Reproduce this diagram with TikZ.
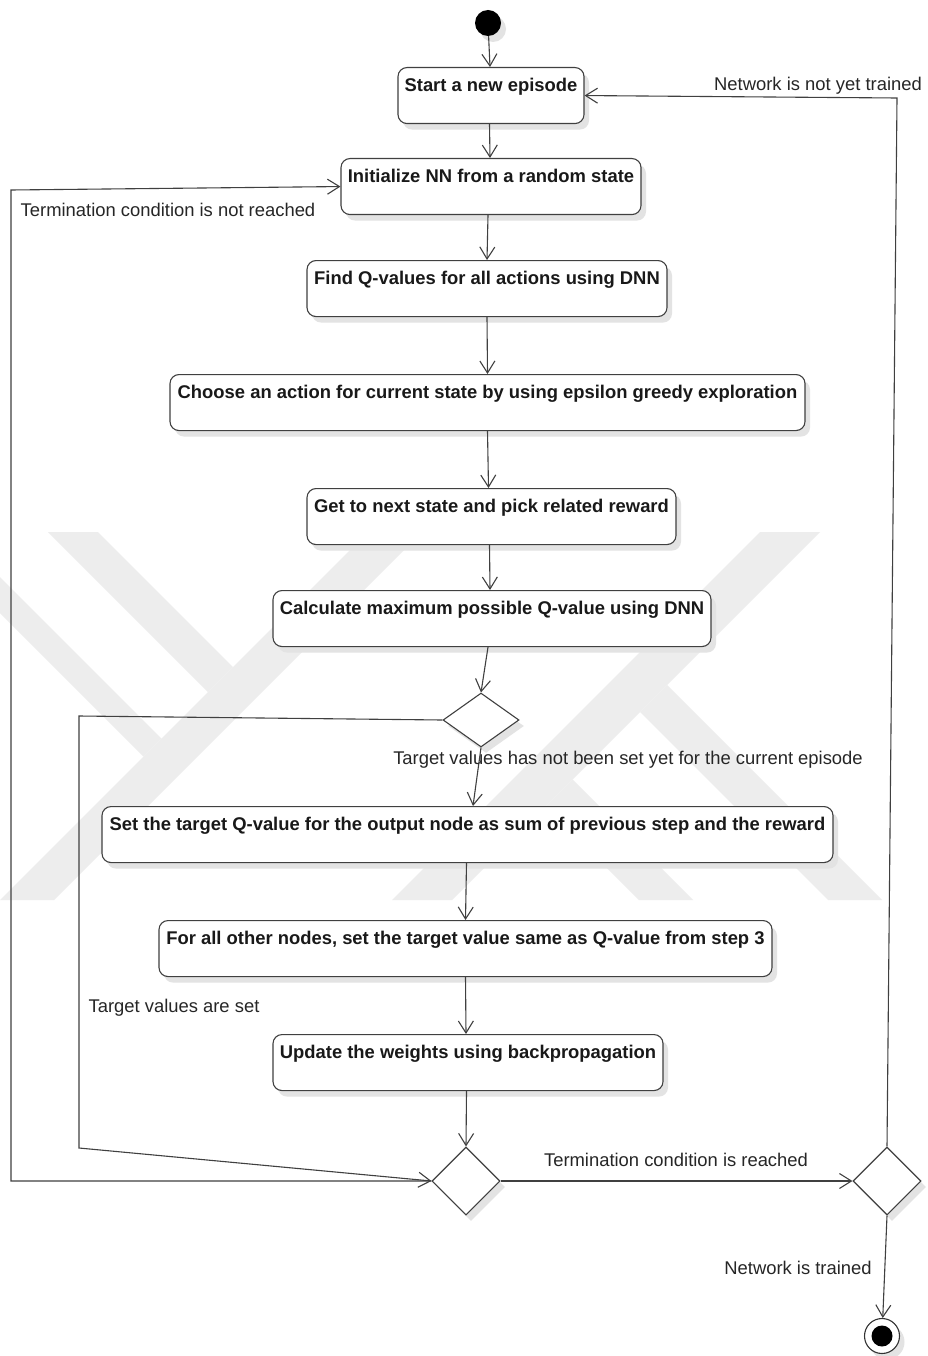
\documentclass[tikz,border=0pt]{standalone}
\usepackage{fontspec}
\setmainfont{Liberation Sans}
\usetikzlibrary{arrows.meta,shapes.geometric,shadows,calc}
\begin{document}
\begin{tikzpicture}[x=1pt,y=-1pt,
  shade/.style={drop shadow={shadow xshift=5pt,shadow yshift=-6pt,fill=black!11,opacity=1}},
  act/.style={draw=black!75, line width=1.1pt, rounded corners=9pt, fill=white, anchor=north,
    inner xsep=0pt, inner ysep=5pt, text height=19pt, text depth=27pt, text=black!90,
    font=\fontsize{18.4}{21}\selectfont\bfseries, shade},
  dec/.style={diamond, draw=black!75, line width=1.1pt, fill=white, inner sep=0pt, shade},
  flow/.style={draw=black!75, line width=1.1pt, -{Straight Barb[length=12pt,width=15pt]}},
  lbl/.style={anchor=base, inner sep=0pt, text=black!85, font=\fontsize{18.4}{21}\selectfont},
  wm/.style={fill=black!7, draw=none}]
\useasboundingbox (0,0) rectangle (927,1356);
\fill[white] (0,0) rectangle (927,1356);
% watermark
\fill[wm] (48,532) -- (98,532) -- (233,667) -- (208,692) -- cycle;
\fill[wm] (0,577) -- (161.5,738.5) -- (143.5,756.5) -- (0,613) -- cycle;
\fill[wm] (355,545) -- (409,545) -- (54,900) -- (0,900) -- cycle;
\fill[wm] (760,532) -- (820,532) -- (452,900) -- (392,900) -- cycle;
\fill[wm] (667,685) -- (882,900) -- (828,900) -- (640,712) -- cycle;
\fill[wm] (572.5,779.5) -- (693,900) -- (639,900) -- (545.5,806.5) -- cycle;
% nodes
\node[circle, fill=black, minimum size=26pt, inner sep=0pt, shade] (s) at (488,23) {};
\node[act, minimum width=186pt] (b1) at (491,67) {Start a new episode};
\node[act, minimum width=300pt] (b2) at (491,158) {Initialize NN from a random state};
\node[act, minimum width=360pt] (b3) at (487,260) {Find Q-values for all actions using DNN};
\node[act, minimum width=635pt] (b4) at (487.5,374) {Choose an action for current state by using epsilon greedy exploration};
\node[act, minimum width=369pt] (b5) at (491.5,488) {Get to next state and pick related reward};
\node[act, minimum width=438pt] (b6) at (492,590) {Calculate maximum possible Q-value using DNN};
\node[dec, minimum width=76pt, minimum height=54pt] (d1) at (481,720) {};
\node[act, minimum width=731pt] (b7) at (467.5,806) {Set the target Q-value for the output node as sum of previous step and the reward};
\node[act, minimum width=613pt] (b8) at (465.5,920) {For all other nodes, set the target value same as Q-value from step 3};
\node[act, minimum width=390pt] (b9) at (468,1034) {Update the weights using backpropagation};
\node[dec, minimum width=68pt, minimum height=68pt] (d2) at (466,1181) {};
\node[dec, minimum width=68pt, minimum height=68pt] (d3) at (887,1181) {};
\node[circle, draw=black!80, line width=1.1pt, fill=white, minimum size=35pt, inner sep=0pt, shade] (e) at (882,1336) {};
\node[circle, fill=black, minimum size=21pt, inner sep=0pt] (ei) at (e) {};
% coordinates
\coordinate (c1) at (79,716);
\coordinate (c2) at (79,1148);
\coordinate (c3) at (11,1181);
\coordinate (c4) at (11,190);
\coordinate (c5) at (897,98);
% connectors
\draw[flow] (s) -- ([xshift=-1pt]b1.north);
\draw[flow] ([xshift=-1.5pt]b1.south) -- ([xshift=-1pt]b2.north);
\draw[flow] ([xshift=-3pt]b2.south) -- (b3.north);
\draw[flow] (b3.south) -- (b4.north);
\draw[flow] (b4.south) -- ([xshift=-3pt]b5.north);
\draw[flow] ([xshift=-2pt]b5.south) -- ([xshift=-2pt]b6.north);
\draw[flow] ([xshift=-4pt]b6.south) -- (d1.north);
\draw[flow] (d1.south) -- ([xshift=5.5pt]b7.north);
\draw[flow] ([xshift=-1pt]b7.south) -- (b8.north);
\draw[flow] (b8.south) -- ([xshift=-2pt]b9.north);
\draw[flow] ([xshift=-1.5pt]b9.south) -- (d2.north);
\draw[flow] (d1.west) -- (c1) -- (c2) -- (d2.west);
\draw[flow] (d2.west) -- (c3) -- (c4) -- (b2.west);
\draw[flow] (d2.east) -- (d3.west);
\draw[flow] (d3.north) -- (c5) -- (b1.east);
\draw[flow] (d3.south) -- (e);
% labels
\node[lbl] (l1) at (818,91) {Network is not yet trained};
\node[lbl] (l2) at (168,217) {Termination condition is not reached};
\node[lbl] (l3) at (628,764) {Target values has not been set yet for the current episode};
\node[lbl] (l4) at (174,1012) {Target values are set};
\node[lbl] (l5) at (676,1166) {Termination condition is reached};
\node[lbl] (l6) at (798,1274) {Network is trained};
\end{tikzpicture}
\end{document}
